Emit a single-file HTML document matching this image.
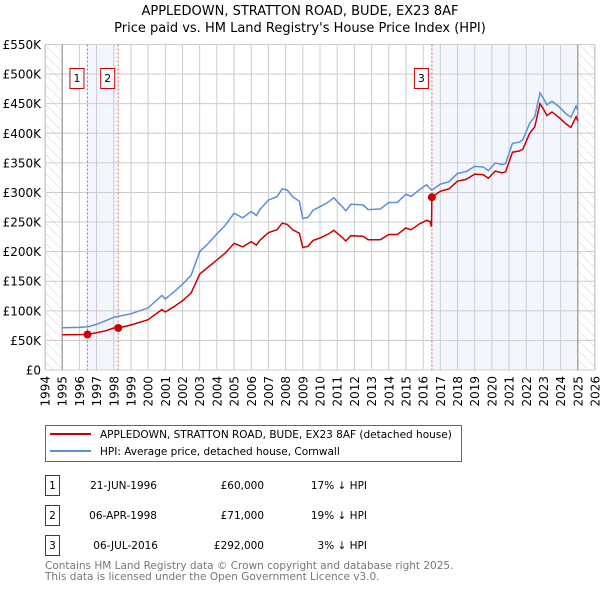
<!DOCTYPE html>
<html><head><meta charset="utf-8"><style>
body{margin:0;background:#fff;}
svg{display:block;font-family:"DejaVu Sans","Liberation Sans",sans-serif;}
</style></head><body>
<svg id="chart" width="600" height="590" viewBox="0 0 600 590" xmlns="http://www.w3.org/2000/svg">
<defs>
<pattern id="hatch" width="7" height="7" patternUnits="userSpaceOnUse" patternTransform="rotate(-45)">
<line x1="0" y1="0" x2="0" y2="7" stroke="#d4d4d4" stroke-width="1"/>
</pattern>
</defs>
<text x="300" y="15" text-anchor="middle" font-size="13">APPLEDOWN, STRATTON ROAD, BUDE, EX23 8AF</text>
<text x="300" y="32" text-anchor="middle" font-size="13">Price paid vs. HM Land Registry's House Price Index (HPI)</text>
<g id="plot"></g>
<g>
<rect x="45.5" y="425.5" width="416" height="36" fill="#fff" stroke="#666"/>
<line x1="50" y1="434" x2="91" y2="434" stroke="#cc0000" stroke-width="2"/>
<text x="100" y="438" font-size="10.5">APPLEDOWN, STRATTON ROAD, BUDE, EX23 8AF (detached house)</text>
<line x1="50" y1="451" x2="91" y2="451" stroke="#5b8fd6" stroke-width="2"/>
<text x="100" y="455" font-size="10.5">HPI: Average price, detached house, Cornwall</text>
</g>
<g font-size="10.5">
<rect x="45.5" y="475.5" width="14" height="20" fill="#fff" stroke="#cc0000"/><text x="52.5" y="489" text-anchor="middle">1</text>
<text x="157" y="489" text-anchor="end">21-JUN-1996</text><text x="264" y="489" text-anchor="end">£60,000</text><text x="367" y="489" text-anchor="end">17% ↓ HPI</text>
<rect x="45.5" y="505.5" width="14" height="20" fill="#fff" stroke="#cc0000"/><text x="52.5" y="519" text-anchor="middle">2</text>
<text x="157" y="519" text-anchor="end">06-APR-1998</text><text x="264" y="519" text-anchor="end">£71,000</text><text x="367" y="519" text-anchor="end">19% ↓ HPI</text>
<rect x="45.5" y="535.5" width="14" height="20" fill="#fff" stroke="#cc0000"/><text x="52.5" y="549" text-anchor="middle">3</text>
<text x="158" y="549" text-anchor="end">06-JUL-2016</text><text x="264" y="549" text-anchor="end">£292,000</text><text x="367" y="549" text-anchor="end">3% ↓ HPI</text>
</g>
<text x="45" y="569" font-size="10.5" fill="#777">Contains HM Land Registry data © Crown copyright and database right 2025.</text>
<text x="45" y="580" font-size="10.5" fill="#777">This data is licensed under the Open Government Licence v3.0.</text>
</svg>
<script>
const hpiYears=[1995,1996,1996.5,1997,1998,1999,2000,2000.8,2001,2001.5,2002,2002.5,2003,2003.5,2004,2004.5,2005,2005.5,2006,2006.3,2006.5,2007,2007.5,2007.8,2008.1,2008.4,2008.8,2008.9,2009,2009.3,2009.6,2010,2010.5,2010.8,2011.3,2011.5,2011.8,2012.5,2012.8,2013.5,2014,2014.5,2015,2015.3,2015.8,2016.2,2016.5,2017,2017.5,2018,2018.5,2019,2019.5,2019.8,2020.2,2020.6,2020.8,2021.2,2021.6,2021.8,2022.2,2022.5,2022.8,2023,2023.2,2023.5,2023.9,2024.3,2024.6,2024.9,2025];
const hpiValues=[71.5,72,73,77,89,95,105,126,120,132,145,160,200,214,230,245,265,257,268,261,271,287,293,306,304,293,285,270,256,258,270,276,284,291,276,269,280,279,271,272,283,283,297,293,305,313,304,314,318,332,335,344,343,337,350,347,349,383,385,389,417,428,468,459,448,454,445,433,427,446,439];
const ppYears=[1995,1996.47,1997,1997.5,1998,1998.26,1999,2000,2000.8,2001,2001.5,2002,2002.5,2003,2003.5,2004,2004.5,2005,2005.5,2006,2006.3,2006.5,2007,2007.5,2007.8,2008.1,2008.4,2008.8,2008.9,2009,2009.3,2009.6,2010,2010.5,2010.8,2011.3,2011.5,2011.8,2012.5,2012.8,2013.5,2014,2014.5,2015,2015.3,2015.8,2016.2,2016.4,2016.49,2016.51,2017,2017.5,2018,2018.5,2019,2019.5,2019.8,2020.2,2020.6,2020.8,2021.2,2021.6,2021.8,2022.2,2022.5,2022.8,2023,2023.2,2023.5,2023.9,2024.3,2024.6,2024.9,2025];
const ppValues=[59.5,60,63,66,71,71,76,85,102,98,107,117,130,162,174,186,198,214,208,217,211,219,232,237,248,246,237,231,219,207,209,219,223,230,236,224,218,227,226,220,220,229,229,240,237,247,253,251,242,292,302,306,319,322,331,330,324,336,333,335,368,370,373,400,411,450,441,430,436,427,416,410,428,421];
const saleYears=[1996.47,1998.26,2016.51];
const saleValues=[60,71,292];
const saleLabels=["1","2","3"];
const yTicks=[0,50,100,150,200,250,300,350,400,450,500,550];
const yTickLabels=["£0","£50K","£100K","£150K","£200K","£250K","£300K","£350K","£400K","£450K","£500K","£550K"];
const xTicks=[1994,1995,1996,1997,1998,1999,2000,2001,2002,2003,2004,2005,2006,2007,2008,2009,2010,2011,2012,2013,2014,2015,2016,2017,2018,2019,2020,2021,2022,2023,2024,2025,2026];

const X0=45,X1=595,Y0=370,Y1=44.5;
const xs=y=>X0+(y-1994)/32*(X1-X0);
const ys=v=>Y0-v/550*(Y0-Y1);
const NS="http://www.w3.org/2000/svg";
const g=document.getElementById('plot');
function mk(tag,attrs,parent){const e=document.createElementNS(NS,tag);for(const k in attrs)e.setAttribute(k,attrs[k]);(parent||g).appendChild(e);return e;}

let e;
e=mk('rect',{x:xs(saleYears[0]),y:Y1,width:xs(saleYears[1])-xs(saleYears[0]),height:Y0-Y1,fill:'#eef3fc',opacity:0.7});


e=mk('rect',{x:xs(saleYears[2]),y:Y1,width:xs(2025)-xs(saleYears[2]),height:Y0-Y1,fill:'#eef3fc',opacity:0.7});


e=mk('rect',{x:xs(1994),y:Y1,width:xs(1995)-xs(1994),height:Y0-Y1,fill:'url(#hatch)'});


e=mk('rect',{x:xs(2025),y:Y1,width:xs(2026)-xs(2025),height:Y0-Y1,fill:'url(#hatch)'});



yTicks.forEach((t,i)=>{
  e=mk('line',{x1:X0,x2:X1,y1:ys(t),y2:ys(t),stroke:'#ccc','stroke-width':1});
  
  
  e=mk('text',{x:X0-4,y:ys(t)+4.5,'text-anchor':'end','font-size':'12'});
  e.textContent=yTickLabels[i];
  
  
});
xTicks.forEach(t=>{
  e=mk('line',{x1:xs(t),x2:xs(t),y1:Y1,y2:Y0,stroke:'#ccc','stroke-width':1});
  
  
  e=mk('text',{x:0,y:0,'font-size':'12',transform:`translate(${xs(t)+4.5},${Y0+6}) rotate(-90)`,'text-anchor':'end'});
  e.textContent=String(t);
  
  
});
e=mk('rect',{x:X0+0.5,y:Y1,width:X1-X0-1,height:Y0-Y1,fill:'none',stroke:'#ccc'});


[1995,2025].forEach(t=>{
  e=mk('line',{x1:xs(t),x2:xs(t),y1:Y1,y2:Y0,stroke:'#888','stroke-width':1});
  
  
});
saleYears.forEach(t=>{
  e=mk('line',{x1:xs(t),x2:xs(t),y1:Y1,y2:Y0,stroke:'#e06060','stroke-width':1,'stroke-dasharray':'2,2'});
  
  
});
function pathOf(xa,va){return xa.map((x,i)=>(i?'L':'M')+xs(x).toFixed(1)+','+ys(va[i]).toFixed(1)).join('');}
e=mk('path',{d:pathOf(hpiYears,hpiValues),fill:'none',stroke:'#5b8fd6','stroke-width':1.5});


e=mk('path',{d:pathOf(ppYears,ppValues),fill:'none',stroke:'#cc0000','stroke-width':1.5});


saleYears.forEach((t,i)=>{
  e=mk('circle',{cx:xs(t),cy:ys(saleValues[i]),r:4,fill:'#cc0000'});
  
  
  e=mk('rect',{x:xs(t)-17.5,y:68.5,width:14,height:20,fill:'#fff',stroke:'#cc0000'});
  
  
  e=mk('text',{x:xs(t)-10.5,y:82,'text-anchor':'middle','font-size':'11'});
  e.textContent=saleLabels[i];
  
  
});
</script>
</body></html>
